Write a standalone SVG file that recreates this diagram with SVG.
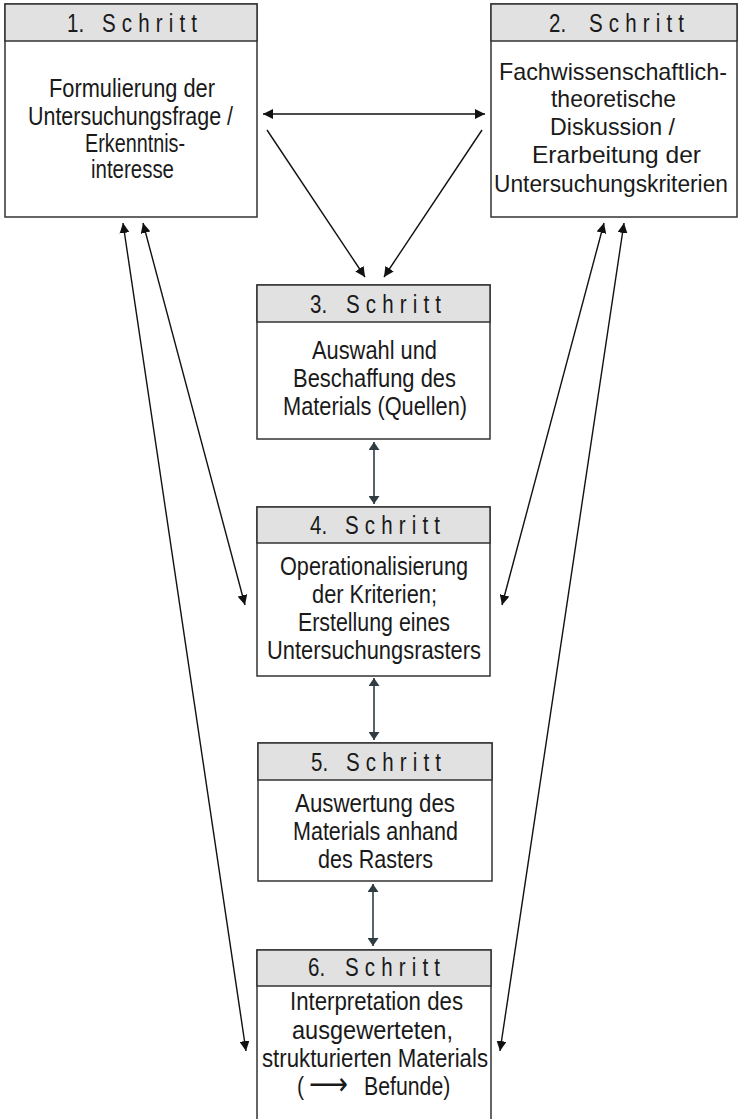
<svg xmlns="http://www.w3.org/2000/svg" width="738" height="1119" viewBox="0 0 738 1119">
<style>
.box{fill:#fff;stroke:#333;stroke-width:1.5}
.hd{fill:#e1e1e1;stroke:#333;stroke-width:1.5}
text{font-family:"Liberation Sans",Arial,sans-serif;font-size:25px;fill:#1a1a1a}
.n{font-size:24px}
.m{font-size:23px}
.s{letter-spacing:7.5px}
.c{fill:none;stroke:#111;stroke-width:1.4}
.v{fill:none;stroke:#2f3c44;stroke-width:1.6}
</style>
<defs>
<marker id="ah" markerUnits="userSpaceOnUse" markerWidth="11" markerHeight="10" refX="10" refY="5" orient="auto-start-reverse"><path d="M0,0 L10,5 L0,10 z" fill="#111"/></marker>
<marker id="av" markerUnits="userSpaceOnUse" markerWidth="9" markerHeight="11" refX="8" refY="5.5" orient="auto-start-reverse"><path d="M0,0 L8,5.5 L0,11 z" fill="#2f3c44"/></marker>
</defs>

<g id="connectors">
<line class="c" x1="263" y1="114" x2="485" y2="114" marker-start="url(#ah)" marker-end="url(#ah)"/>
<line class="c" x1="267" y1="130" x2="365" y2="277" marker-end="url(#ah)"/>
<line class="c" x1="482" y1="130" x2="384" y2="277" marker-end="url(#ah)"/>
<line class="v" x1="374" y1="442" x2="374" y2="504" marker-start="url(#av)" marker-end="url(#av)"/>
<line class="v" x1="374" y1="678" x2="374" y2="740" marker-start="url(#av)" marker-end="url(#av)"/>
<line class="v" x1="373" y1="884" x2="373" y2="946" marker-start="url(#av)" marker-end="url(#av)"/>
<line class="c" x1="123" y1="223" x2="246" y2="1051" marker-start="url(#ah)" marker-end="url(#ah)"/>
<line class="c" x1="143" y1="223" x2="245" y2="605" marker-start="url(#ah)" marker-end="url(#ah)"/>
<line class="c" x1="604" y1="223" x2="502" y2="605" marker-start="url(#ah)" marker-end="url(#ah)"/>
<line class="c" x1="624" y1="223" x2="500" y2="1051" marker-start="url(#ah)" marker-end="url(#ah)"/>
</g>

<g id="step1">
<rect class="box" x="5" y="4" width="252" height="213"/>
<rect class="hd" x="5" y="4" width="252" height="37"/>
<text transform="translate(67,32) scale(0.82,1)"><tspan x="0">1. </tspan><tspan class="s" x="42.7">Schritt</tspan></text>
<text x="49" y="97" textLength="166" lengthAdjust="spacingAndGlyphs">Formulierung der</text>
<text x="28" y="125" textLength="205" lengthAdjust="spacingAndGlyphs">Untersuchungsfrage /</text>
<text x="85" y="152" textLength="100" lengthAdjust="spacingAndGlyphs">Erkenntnis-</text>
<text x="91" y="178" textLength="83" lengthAdjust="spacingAndGlyphs">interesse</text>
</g>

<g id="step2">
<rect class="box" x="491" y="4" width="246" height="213"/>
<rect class="hd" x="491" y="4" width="246" height="37"/>
<text transform="translate(549,32) scale(0.82,1)"><tspan x="0">2. </tspan><tspan class="s" x="48.8">Schritt</tspan></text>
<text class="n" x="499" y="80" textLength="228" lengthAdjust="spacingAndGlyphs">Fachwissenschaftlich-</text>
<text class="n" x="551" y="107" textLength="125" lengthAdjust="spacingAndGlyphs">theoretische</text>
<text class="n" x="550" y="135" textLength="125" lengthAdjust="spacingAndGlyphs">Diskussion /</text>
<text class="n" x="532" y="163" textLength="169" lengthAdjust="spacingAndGlyphs">Erarbeitung der</text>
<text class="m" x="494" y="192" textLength="234" lengthAdjust="spacingAndGlyphs">Untersuchungskriterien</text>
</g>

<g id="step3">
<rect class="box" x="257" y="285" width="233" height="154"/>
<rect class="hd" x="257" y="285" width="233" height="37"/>
<text transform="translate(310,313) scale(0.82,1)"><tspan x="0">3. </tspan><tspan class="s" x="43.9">Schritt</tspan></text>
<text x="312" y="359" textLength="125" lengthAdjust="spacingAndGlyphs">Auswahl und</text>
<text x="293" y="387" textLength="163" lengthAdjust="spacingAndGlyphs">Beschaffung des</text>
<text x="283" y="415" textLength="184" lengthAdjust="spacingAndGlyphs">Materials (Quellen)</text>
</g>

<g id="step4">
<rect class="box" x="257" y="507" width="233" height="169"/>
<rect class="hd" x="257" y="507" width="233" height="36"/>
<text transform="translate(310,534) scale(0.82,1)"><tspan x="0">4. </tspan><tspan class="s" x="42.7">Schritt</tspan></text>
<text x="280" y="575" textLength="188" lengthAdjust="spacingAndGlyphs">Operationalisierung</text>
<text x="312" y="603" textLength="125" lengthAdjust="spacingAndGlyphs">der Kriterien;</text>
<text x="298" y="631" textLength="152" lengthAdjust="spacingAndGlyphs">Erstellung eines</text>
<text x="267" y="659" textLength="214" lengthAdjust="spacingAndGlyphs">Untersuchungsrasters</text>
</g>

<g id="step5">
<rect class="box" x="258" y="743" width="234" height="138"/>
<rect class="hd" x="258" y="743" width="234" height="37"/>
<text transform="translate(311,771) scale(0.82,1)"><tspan x="0">5. </tspan><tspan class="s" x="42.7">Schritt</tspan></text>
<text x="295" y="812" textLength="160" lengthAdjust="spacingAndGlyphs">Auswertung des</text>
<text x="293" y="840" textLength="165" lengthAdjust="spacingAndGlyphs">Materials anhand</text>
<text x="318" y="868" textLength="115" lengthAdjust="spacingAndGlyphs">des Rasters</text>
</g>

<g id="step6">
<rect class="box" x="257" y="950" width="234" height="180"/>
<rect class="hd" x="257" y="950" width="234" height="36"/>
<text transform="translate(308,976) scale(0.82,1)"><tspan x="0">6. </tspan><tspan class="s" x="45.1">Schritt</tspan></text>
<text x="290" y="1010" textLength="173" lengthAdjust="spacingAndGlyphs">Interpretation des</text>
<text x="292" y="1039" textLength="161" lengthAdjust="spacingAndGlyphs">ausgewerteten,</text>
<text x="262" y="1067" textLength="226" lengthAdjust="spacingAndGlyphs">strukturierten Materials</text>
<text transform="translate(297,1095) scale(0.85,1)"><tspan x="0">(</tspan><tspan x="14" style="font-family:'DejaVu Sans',sans-serif;font-size:32px">⟶</tspan><tspan x="72"> Befunde)</tspan></text>
</g>
</svg>
